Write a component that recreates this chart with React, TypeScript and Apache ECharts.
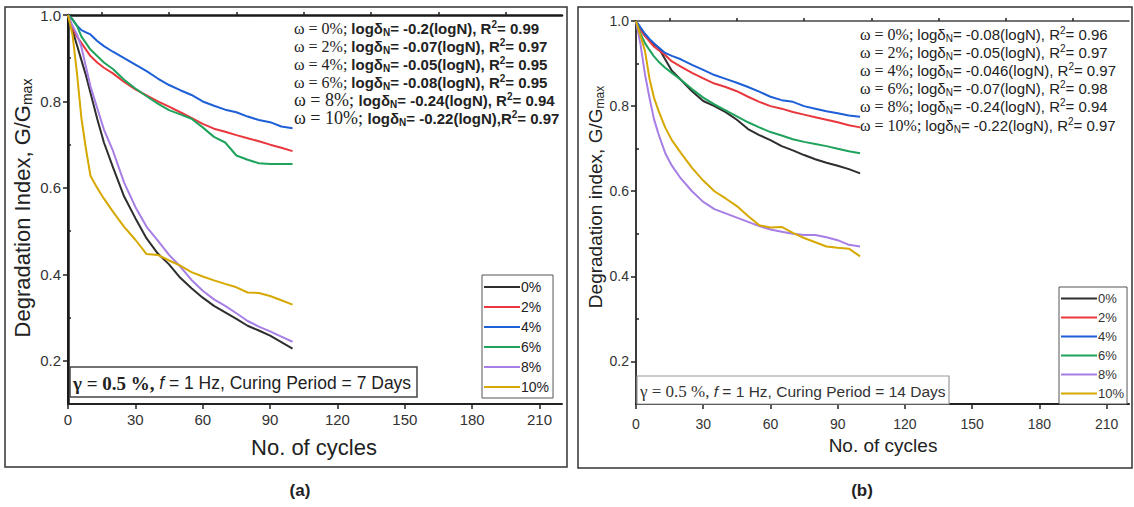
import React, { useEffect, useRef } from "react";
import * as echarts from "echarts";

// ---------- data ----------
const cycles = [0, 2, 4, 6, 8, 10, 13, 16, 20, 25, 30, 35, 40, 45, 50, 55, 60, 65, 70, 75, 80, 85, 90, 95, 100];
const contents = ["0%", "2%", "4%", "6%", "8%", "10%"];
const colors = ["#2e2e2e", "#e8383d", "#1d5fd6", "#1fa35c", "#a77ee6", "#d6a800"];

const xTicks = [0, 30, 60, 90, 120, 150, 180, 210];
const xMinor = [15, 45, 75, 105, 135, 165, 195];
const yTicks = [0.2, 0.4, 0.6, 0.8, 1.0];
const yMinor = [0.3, 0.5, 0.7, 0.9];

// (a) curing period 7 days
const a0 = [1.0, 0.965, 0.93, 0.895, 0.86, 0.82, 0.76, 0.705, 0.648, 0.58, 0.53, 0.483, 0.448, 0.423, 0.392, 0.368, 0.346, 0.327, 0.312, 0.297, 0.281, 0.27, 0.258, 0.243, 0.228];
const a2 = [1.0, 0.97, 0.95, 0.935, 0.92, 0.905, 0.89, 0.878, 0.865, 0.845, 0.828, 0.814, 0.8, 0.788, 0.775, 0.762, 0.748, 0.737, 0.73, 0.722, 0.715, 0.708, 0.7, 0.693, 0.685];
const a4 = [1.0, 0.99, 0.975, 0.965, 0.96, 0.955, 0.94, 0.928, 0.915, 0.9, 0.885, 0.87, 0.853, 0.838, 0.826, 0.815, 0.8, 0.79, 0.781, 0.775, 0.765, 0.757, 0.752, 0.742, 0.738];
const a6 = [1.0, 0.99, 0.975, 0.95, 0.935, 0.92, 0.905, 0.89, 0.875, 0.85, 0.83, 0.812, 0.795, 0.78, 0.77, 0.76, 0.74, 0.718, 0.705, 0.675, 0.665, 0.657, 0.655, 0.655, 0.655];
const a8 = [1.0, 0.975, 0.955, 0.925, 0.88, 0.835, 0.785, 0.735, 0.686, 0.612, 0.556, 0.51, 0.478, 0.445, 0.418, 0.387, 0.362, 0.342, 0.327, 0.31, 0.292, 0.279, 0.268, 0.256, 0.244];
const a10 = [1.0, 0.955, 0.865, 0.76, 0.69, 0.628, 0.6, 0.575, 0.545, 0.51, 0.48, 0.447, 0.445, 0.432, 0.42, 0.405, 0.395, 0.386, 0.378, 0.37, 0.358, 0.357, 0.35, 0.34, 0.33];

// (b) curing period 14 days
const b0 = [1.0, 0.98, 0.965, 0.955, 0.945, 0.938, 0.91, 0.883, 0.862, 0.835, 0.812, 0.8, 0.786, 0.768, 0.746, 0.732, 0.72, 0.706, 0.696, 0.685, 0.675, 0.667, 0.66, 0.652, 0.642];
const b2 = [1.0, 0.98, 0.965, 0.952, 0.94, 0.932, 0.92, 0.905, 0.893, 0.878, 0.865, 0.853, 0.845, 0.835, 0.822, 0.81, 0.8, 0.794, 0.786, 0.78, 0.774, 0.768, 0.762, 0.755, 0.75];
const b4 = [1.0, 0.985, 0.97, 0.958, 0.948, 0.938, 0.925, 0.918, 0.91, 0.897, 0.885, 0.873, 0.864, 0.855, 0.845, 0.834, 0.822, 0.814, 0.81, 0.8, 0.794, 0.788, 0.783, 0.778, 0.775];
const b6 = [1.0, 0.97, 0.948, 0.932, 0.917, 0.905, 0.89, 0.878, 0.862, 0.84, 0.82, 0.804, 0.79, 0.776, 0.762, 0.75, 0.739, 0.731, 0.722, 0.716, 0.711, 0.706, 0.7, 0.694, 0.689];
const b8 = [1.0, 0.945, 0.875, 0.82, 0.77, 0.735, 0.69, 0.66, 0.63, 0.6, 0.575, 0.558, 0.548, 0.538, 0.528, 0.518, 0.51, 0.505, 0.5, 0.497, 0.497, 0.492, 0.485, 0.474, 0.47];
const b10 = [1.0, 0.965, 0.93, 0.865, 0.82, 0.79, 0.75, 0.72, 0.69, 0.655, 0.625, 0.6, 0.583, 0.565, 0.542, 0.52, 0.515, 0.516, 0.502, 0.49, 0.48, 0.47, 0.467, 0.465, 0.447];

const aSlopes = ["-0.2", "-0.07", "-0.05", "-0.08", "-0.24", "-0.22"];
const aR2 = ["0.99", "0.97", "0.95", "0.95", "0.94", "0.97"];
const bSlopes = ["-0.08", "-0.05", "-0.046", "-0.07", "-0.24", "-0.22"];
const bR2 = ["0.96", "0.97", "0.97", "0.98", "0.94", "0.97"];

const SANS = "'Liberation Sans', Arial, sans-serif";
const SERIF = "'Liberation Serif', 'Times New Roman', serif";

function buildAxes(grid: number, xs: any, ys: any) {
  const lineC = "#222";
  return {
    x: [
      {
        type: "value", gridIndex: grid, min: 0, max: 220,
        axisLine: { show: true, lineStyle: { color: lineC, width: 2 } },
        axisTick: { show: true, customValues: xTicks, length: 5, lineStyle: { color: lineC, width: 1.5 } },
        axisLabel: { customValues: xTicks, fontSize: xs.fs, color: "#333", fontFamily: SANS, margin: xs.margin },
        splitLine: { show: false },
      },
      {
        type: "value", gridIndex: grid, min: 0, max: 220,
        axisLine: { show: false },
        axisTick: { show: true, customValues: xMinor, length: 3, lineStyle: { color: lineC, width: 1.5 } },
        axisLabel: { show: false },
        splitLine: { show: false },
      },
      {
        type: "value", gridIndex: grid, min: 0, max: 220, position: "top",
        axisLine: { show: true, lineStyle: { color: xs.frame, width: xs.frameW } },
        axisTick: { show: false }, axisLabel: { show: false }, splitLine: { show: false },
      },
    ],
    y: [
      {
        type: "value", gridIndex: grid, min: 0.1, max: 1.0,
        axisLine: { show: true, lineStyle: { color: lineC, width: 2 } },
        axisTick: { show: true, customValues: yTicks, length: 5, lineStyle: { color: lineC, width: 1.5 } },
        axisLabel: {
          customValues: yTicks, fontSize: ys.fs, color: "#333", fontFamily: SANS, margin: ys.margin,
          formatter: (v: number) => v.toFixed(1),
        },
        splitLine: { show: false },
      },
      {
        type: "value", gridIndex: grid, min: 0.1, max: 1.0,
        axisLine: { show: false },
        axisTick: { show: true, customValues: yMinor, length: 3, lineStyle: { color: lineC, width: 1.5 } },
        axisLabel: { show: false },
        splitLine: { show: false },
      },
      {
        type: "value", gridIndex: grid, min: 0.1, max: 1.0, position: "right",
        axisLine: { show: true, lineStyle: { color: xs.frame, width: xs.frameW } },
        axisTick: { show: false }, axisLabel: { show: false }, splitLine: { show: false },
      },
    ],
  };
}

function annoLines(slopes: string[], r2: string[], x: number, y0: number, dy: number, bold: boolean, fs: number) {
  const w = bold ? "bold" : "normal";
  return slopes.map((s, i) => {
    const sep = bold && i === 5 ? "," : ", ";
    const wfs = bold && i >= 4 ? fs + 3 : fs + 1;
    return {
      type: "text",
      x, y: y0 + i * dy,
      z: 50,
      style: {
        text: `{w|ω = ${contents[i]}; }{s|logδ}{sub|N}{s|= ${s}(logN)${sep}R}{sup|2}{s|= ${r2[i]}}`,
        verticalAlign: "middle",
        fill: "#222",
        rich: {
          w: { fontFamily: SERIF, fontSize: wfs, fill: "#222" },
          s: { fontFamily: SANS, fontSize: fs, fontWeight: w, fill: "#222" },
          sub: { fontFamily: SANS, fontSize: fs - 5, fontWeight: w, fill: "#222", padding: [8, 0, 0, 0] },
          sup: { fontFamily: SANS, fontSize: fs - 5, fontWeight: w, fill: "#222", padding: [0, 0, 8, 0] },
        },
      },
    };
  });
}

export default function App() {
  const ref = useRef<HTMLDivElement>(null);
  useEffect(() => {
    if (!ref.current) return;
    const chart = echarts.init(ref.current, null, { renderer: "svg" });
    const A = buildAxes(0, { fs: 15, margin: 8, frame: "#1a1a1a", frameW: 2.5 }, { fs: 15, margin: 7 });
    const B = buildAxes(1, { fs: 14, margin: 13, frame: "#444", frameW: 1.5 }, { fs: 14, margin: 7 });
    const aSets = [a0, a2, a4, a6, a8, a10];
    const bSets = [b0, b2, b4, b6, b8, b10];
    const series: any[] = [];
    aSets.forEach((vals, i) => {
      series.push({
        type: "line", name: contents[i], xAxisIndex: 0, yAxisIndex: 0,
        data: cycles.map((c, j) => [c, vals[j]]),
        symbol: "none", showSymbol: false,
        lineStyle: { width: 2, color: colors[i] }, itemStyle: { color: colors[i] },
      });
    });
    bSets.forEach((vals, i) => {
      series.push({
        type: "line", name: contents[i], xAxisIndex: 3, yAxisIndex: 3,
        data: cycles.map((c, j) => [c, vals[j]]),
        symbol: "none", showSymbol: false,
        lineStyle: { width: 2, color: colors[i] }, itemStyle: { color: colors[i] },
      });
    });

    const legendBase = {
      data: contents,
      orient: "vertical",
      icon: "rect",
      itemWidth: 36,
      itemHeight: 2,
      borderColor: "#555",
      borderWidth: 1,
      backgroundColor: "#fff",
      selectedMode: false,
      align: "left",
    };

    const option: any = {
      animation: false,
      backgroundColor: "#fff",
      grid: [
        { left: 68, top: 15, width: 494, height: 389 },
        { left: 636, top: 21, width: 493, height: 383 },
      ],
      xAxis: [...A.x, ...B.x],
      yAxis: [...A.y, ...B.y],
      legend: [
        {
          ...legendBase, left: 482, top: 275, itemGap: 6, padding: [5, 4, 4, 2],
          textStyle: { fontSize: 14, fontFamily: SANS, color: "#222", padding: [0, 0, 0, -4] },
        },
        {
          ...legendBase, left: 1059, top: 287, itemGap: 6, padding: [5, 3, 4, 2],
          textStyle: { fontSize: 13, fontFamily: SANS, color: "#333", padding: [0, 0, 0, -4] },
        },
      ],
      series,
      graphic: [
        // outer panel frames
        { type: "rect", shape: { x: 5, y: 7, width: 562, height: 460 }, style: { fill: "none", stroke: "#333", lineWidth: 1.5 }, z: 0, silent: true },
        { type: "rect", shape: { x: 578, y: 7, width: 554, height: 461 }, style: { fill: "none", stroke: "#333", lineWidth: 1.5 }, z: 0, silent: true },
        // annotation equations
        ...annoLines(aSlopes, aR2, 294, 28, 18, true, 15),
        ...annoLines(bSlopes, bR2, 860, 34, 18.2, false, 15),
        // test condition boxes
        { type: "rect", shape: { x: 70, y: 367, width: 347, height: 30 }, style: { fill: "#fff", stroke: "#444", lineWidth: 1.5 }, z: 40 },
        {
          type: "text", x: 73, y: 383, z: 41,
          style: {
            text: "{g|γ = 0.5 %, }{f|f}{s| = 1 Hz, Curing Period = 7 Days}",
            verticalAlign: "middle",
            rich: {
              g: { fontFamily: SERIF, fontSize: 19, fontWeight: "bold", fill: "#222" },
              f: { fontFamily: SANS, fontSize: 17.5, fontStyle: "italic", fill: "#222" },
              s: { fontFamily: SANS, fontSize: 17.5, fill: "#222" },
            },
          },
        },
        { type: "rect", shape: { x: 637, y: 376, width: 312, height: 28 }, style: { fill: "#fff", stroke: "#999", lineWidth: 1.2 }, z: 40 },
        {
          type: "text", x: 640, y: 391, z: 41,
          style: {
            text: "{g|γ = 0.5 %, }{f|f}{s| = 1 Hz, Curing Period = 14 Days}",
            verticalAlign: "middle",
            rich: {
              g: { fontFamily: SERIF, fontSize: 17, fill: "#333" },
              f: { fontFamily: SANS, fontSize: 15.5, fontStyle: "italic", fill: "#333" },
              s: { fontFamily: SANS, fontSize: 15.5, fill: "#333" },
            },
          },
        },
        // axis titles
        {
          type: "text", x: 314, y: 447, z: 41,
          style: { text: "No. of cycles", fontFamily: SANS, fontSize: 22, fill: "#222", align: "center", verticalAlign: "middle" },
        },
        {
          type: "text", x: 883, y: 445, z: 41,
          style: { text: "No. of cycles", fontFamily: SANS, fontSize: 19, fill: "#222", align: "center", verticalAlign: "middle" },
        },
        {
          type: "text", x: 22, y: 208, rotation: Math.PI / 2, z: 41,
          style: {
            text: "{s|Degradation Index, G/G}{sub|max}",
            align: "center", verticalAlign: "middle",
            rich: {
              s: { fontFamily: SANS, fontSize: 22, fill: "#222" },
              sub: { fontFamily: SANS, fontSize: 14, fill: "#222", padding: [10, 0, 0, 0] },
            },
          },
        },
        {
          type: "text", x: 595, y: 197, rotation: Math.PI / 2, z: 41,
          style: {
            text: "{s|Degradation index, G/G}{sub|max}",
            align: "center", verticalAlign: "middle",
            rich: {
              s: { fontFamily: SANS, fontSize: 19, fill: "#222" },
              sub: { fontFamily: SANS, fontSize: 12, fill: "#222", padding: [9, 0, 0, 0] },
            },
          },
        },
        // captions
        {
          type: "text", x: 300, y: 490, z: 41,
          style: { text: "(a)", fontFamily: SANS, fontSize: 17, fontWeight: "bold", fill: "#222", align: "center", verticalAlign: "middle" },
        },
        {
          type: "text", x: 862, y: 490, z: 41,
          style: { text: "(b)", fontFamily: SANS, fontSize: 17, fontWeight: "bold", fill: "#222", align: "center", verticalAlign: "middle" },
        },
      ],
    };
    chart.setOption(option);
    return () => chart.dispose();
  }, []);
  return (
    <div
      ref={ref}
      style={{ position: "fixed", left: 0, top: 0, width: 1134, height: 507, background: "#fff" }}
    />
  );
}
